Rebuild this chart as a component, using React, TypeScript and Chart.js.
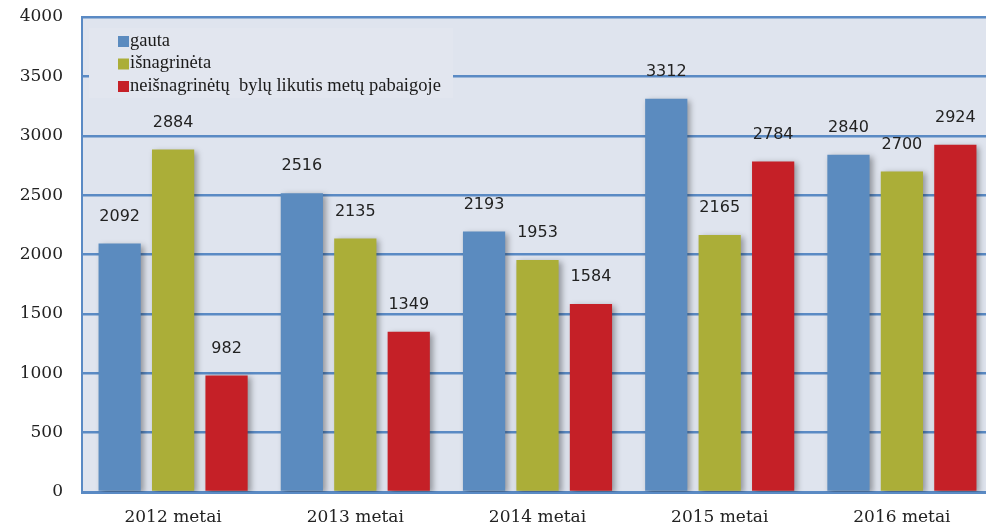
import React, { useEffect, useRef } from "react";
import { Chart, registerables } from "chart.js";

Chart.register(...registerables);

const categories = ["2012 metai", "2013 metai", "2014 metai", "2015 metai", "2016 metai"];
const gauta = [2092, 2516, 2193, 3312, 2840];
const isnagrineta = [2884, 2135, 1953, 2165, 2700];
const likutis = [982, 1349, 1584, 2784, 2924];
const seriesNames = ["gauta", "išnagrinėta", "neišnagrinėtų  bylų likutis metų pabaigoje"];
const seriesColors = ["#5b8bbf", "#abae38", "#c52027"];
const yTicks = { min: 0, max: 4000, step: 500 };

const GRID = "#5a8ac4";

export default function App() {
  const ref = useRef<HTMLCanvasElement>(null);
  useEffect(() => {
    document.body.style.margin = "0";
    const canvas = ref.current!;
    const bgPlugin = {
      id: "bg",
      beforeDraw(chart: any) {
        const { ctx, chartArea: a } = chart;
        ctx.save();
        ctx.fillStyle = "#dfe4ee";
        ctx.fillRect(a.left, a.top, a.right - a.left, a.bottom - a.top);
        ctx.restore();
      },
    };
    const legendPlugin = {
      id: "legendBox",
      beforeDatasetsDraw(chart: any) {
        const { ctx, chartArea: a } = chart;
        ctx.save();
        ctx.fillStyle = "#e2e6ef";
        ctx.fillRect(a.left + 7, a.top + 11, 364, 70);
        ctx.font = "18.5px 'Liberation Serif'";
        ctx.textBaseline = "middle";
        ctx.textAlign = "left";
        seriesNames.forEach((n, i) => {
          const y = a.top + 24 + i * 22.5;
          ctx.fillStyle = seriesColors[i];
          ctx.fillRect(a.left + 36, y - 5, 11, 11);
          ctx.fillStyle = "#1a1a1a";
          ctx.fillText(n, a.left + 48, y);
        });
        ctx.restore();
      },
    };
    const shadowPlugin = {
      id: "shadow",
      beforeDatasetsDraw(chart: any) {
        const ctx = chart.ctx;
        ctx.save();
        ctx.shadowColor = "rgba(0,0,0,0.35)";
        ctx.shadowBlur = 6;
        ctx.shadowOffsetX = 3;
        ctx.shadowOffsetY = 2;
      },
      afterDatasetsDraw(chart: any) {
        chart.ctx.restore();
      },
    };
    const labelPlugin = {
      id: "vals",
      afterDatasetsDraw(chart: any) {
        const ctx = chart.ctx;
        ctx.save();
        ctx.font = "16px 'DejaVu Sans'";
        ctx.fillStyle = "#222";
        ctx.textAlign = "center";
        ctx.textBaseline = "middle";
        chart.data.datasets.forEach((ds: any, di: number) => {
          const meta = chart.getDatasetMeta(di);
          meta.data.forEach((el: any, i: number) => {
            ctx.fillText(String(ds.data[i]), el.x, el.y - 27);
          });
        });
        ctx.restore();
      },
    };
    const chart = new Chart(canvas, {
      type: "bar",
      data: {
        labels: categories,
        datasets: [gauta, isnagrineta, likutis].map((d, i) => ({
          label: seriesNames[i],
          data: d,
          backgroundColor: seriesColors[i],
          borderWidth: 0,
          categoryPercentage: 0.88,
          barPercentage: 0.79,
        })),
      },
      options: {
        responsive: false,
        animation: false,
        layout: { padding: { top: 17, right: 0, left: 0, bottom: 0 } },
        plugins: { legend: { display: false }, tooltip: { enabled: false } },
        scales: {
          x: {
            grid: { display: false, drawTicks: false },
            border: { display: true, color: GRID, width: 3 },
            ticks: { font: { family: "DejaVu Serif", size: 17 }, color: "#222", padding: 15 },
            afterFit(s: any) { s.height = 37; s.paddingLeft = 0; s.paddingRight = 0; },
          },
          y: {
            min: yTicks.min,
            max: yTicks.max,
            ticks: {
              stepSize: yTicks.step,
              font: { family: "DejaVu Serif", size: 17 },
              color: "#222",
              padding: 19,
              callback: (v: any) => String(v),
            },
            grid: { color: GRID, lineWidth: 2.5, drawTicks: false },
            border: { display: true, color: GRID, width: 2 },
            afterFit(s: any) { s.width = 82; s.paddingTop = 0; s.paddingBottom = 0; },
          },
        },
      },
      plugins: [bgPlugin, legendPlugin, shadowPlugin, labelPlugin],
    } as any);
    return () => chart.destroy();
  }, []);
  return (
    <div style={{ width: 986, height: 529, background: "#fff", overflow: "hidden" }}>
      <canvas ref={ref} width={993} height={529} style={{ display: "block" }} />
    </div>
  );
}
